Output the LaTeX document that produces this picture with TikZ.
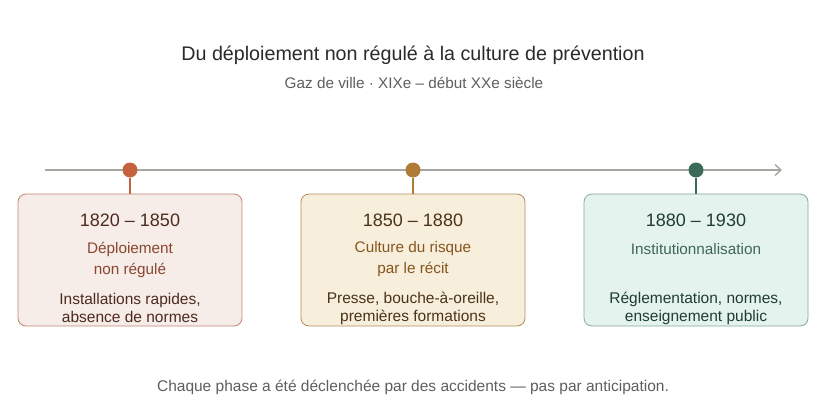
\documentclass[tikz,border=0pt]{standalone}
\usepackage{fontspec}
\setmainfont{Liberation Sans}
\usepackage{xcolor}
\usetikzlibrary{positioning,arrows.meta}

\definecolor{axisgray}{HTML}{A8A6A0}
\definecolor{titlegray}{HTML}{2A2A2A}
\definecolor{subgray}{HTML}{5E5E5E}
\definecolor{rustdot}{HTML}{C4623F}
\definecolor{rustfill}{HTML}{F6ECE8}
\definecolor{rustline}{HTML}{BE8672}
\definecolor{rustdark}{HTML}{4E2A1E}
\definecolor{rusttext}{HTML}{8A4630}
\definecolor{ochredot}{HTML}{AE7A35}
\definecolor{ochrefill}{HTML}{F7EEDC}
\definecolor{ochreline}{HTML}{B38E5C}
\definecolor{ochredark}{HTML}{4A3418}
\definecolor{ochretext}{HTML}{86561E}
\definecolor{greendot}{HTML}{3B6B56}
\definecolor{greenfill}{HTML}{E5F3EE}
\definecolor{greenline}{HTML}{86A99A}
\definecolor{greendark}{HTML}{1F3D31}
\definecolor{greentext}{HTML}{3F6656}

\begin{document}
\begin{tikzpicture}[x=1pt, y=-1pt,
    phasebox/.style={draw, line width=0.8pt, rounded corners=8pt, minimum width=224pt, minimum height=132pt},
    phasedot/.style={circle, inner sep=0pt, minimum size=15pt},
    yeartext/.style={font=\fontsize{18}{21}\selectfont},
    phasetext/.style={font=\fontsize{15.3}{21}\selectfont, align=center},
    desctext/.style={font=\fontsize{15.5}{18}\selectfont, align=center}]
    \useasboundingbox (0,0) rectangle (840,402);

    % Title
    \node[titlegray, font=\fontsize{19.7}{22}\selectfont] (title) at (413,55) {Du déploiement non régulé à la culture de prévention};
    \node[subgray, font=\fontsize{15.3}{18}\selectfont] (subtitle) at (414,83) {Gaz de ville · XIXe – début XXe siècle};

    % Timeline
    \coordinate (axisstart) at (45,170);
    \coordinate (axisend) at (782,170);
    \draw[axisgray, line width=1.4pt, -{Straight Barb[length=6pt, width=11pt]}] (axisstart) -- (axisend);

    % Phase 1
    \node[phasebox, draw=rustline, fill=rustfill] (box1) at (130,260) {};
    \node[phasedot, fill=rustdot] (dot1) at (130,170) {};
    \draw[rustdot, line width=1.6pt] (dot1) -- (box1.north);
    \node[yeartext, rustdark] (year1) at (130,220) {1820 – 1850};
    \node[phasetext, rusttext] (phase1) at (130,259.5) {Déploiement\\non régulé};
    \node[desctext, rustdark] (desc1) at (130,308) {Installations rapides,\\absence de normes};

    % Phase 2
    \node[phasebox, draw=ochreline, fill=ochrefill] (box2) at (413,260) {};
    \node[phasedot, fill=ochredot] (dot2) at (413,170) {};
    \draw[ochredot, line width=1.6pt] (dot2) -- (box2.north);
    \node[yeartext, ochredark] (year2) at (413,220) {1850 – 1880};
    \node[phasetext, ochretext] (phase2) at (413,259.5) {Culture du risque\\par le récit};
    \node[desctext, ochredark] (desc2) at (413,308) {Presse, bouche-à-oreille,\\premières formations};

    % Phase 3
    \node[phasebox, draw=greenline, fill=greenfill] (box3) at (696,260) {};
    \node[phasedot, fill=greendot] (dot3) at (696,170) {};
    \draw[greendot, line width=1.6pt] (dot3) -- (box3.north);
    \node[yeartext, greendark] (year3) at (696,220) {1880 – 1930};
    \node[phasetext, greentext] (phase3) at (696,249) {Institutionnalisation};
    \node[desctext, greendark] (desc3) at (696,308) {Réglementation, normes,\\enseignement public};

    % Footer
    \node[subgray, font=\fontsize{15.5}{18}\selectfont] (footer) at (413,387) {Chaque phase a été déclenchée par des accidents — pas par anticipation.};
\end{tikzpicture}
\end{document}
